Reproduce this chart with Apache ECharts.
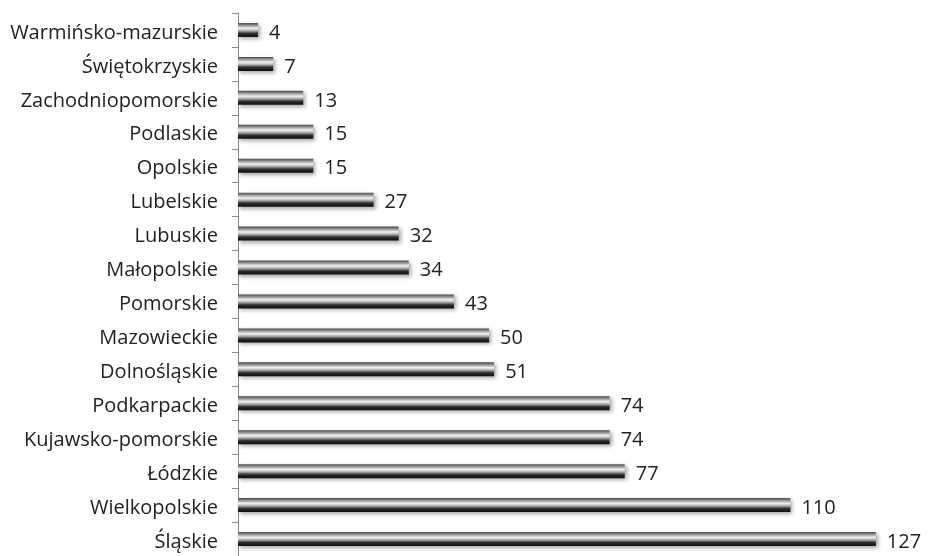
<!DOCTYPE html>
<html>
<head>
<meta charset="utf-8">
<script src="https://cdn.jsdelivr.net/npm/echarts@6/dist/echarts.min.js"></script>
<style>
  html, body { margin: 0; padding: 0; background: #fff; }
  #chart { width: 928px; height: 556px; }
</style>
</head>
<body>
<div id="chart"></div>
<script>
  // od dołu do góry
  var regions = ['Śląskie', 'Wielkopolskie', 'Łódzkie', 'Kujawsko-pomorskie', 'Podkarpackie',
    'Dolnośląskie', 'Mazowieckie', 'Pomorskie', 'Małopolskie', 'Lubuskie', 'Lubelskie',
    'Opolskie', 'Podlaskie', 'Zachodniopomorskie', 'Świętokrzyskie', 'Warmińsko-mazurskie'];
  var counts = [127, 110, 77, 74, 74, 51, 50, 43, 34, 32, 27, 15, 15, 13, 7, 4];

  var txt = { color: '#222', fontSize: 20, fontFamily: '"Open Sans"', padding: [6, 0, 0, 0] };

  var chart = echarts.init(document.getElementById('chart'));
  chart.setOption({
    animation: false,
    grid: { left: 238, right: 7, top: 13, bottom: -3 },
    xAxis: {
      type: 'value',
      min: 0,
      max: 136,
      show: false
    },
    yAxis: {
      type: 'category',
      data: regions,
      axisLine: { lineStyle: { color: '#8c8c8c', width: 1 } },
      axisTick: { show: true, length: 6, lineStyle: { color: '#8c8c8c' } },
      axisLabel: {
        margin: 20,
        formatter: function (v) { return '{t|' + v + '}'; },
        rich: { t: txt }
      }
    },
    series: [{
      type: 'bar',
      data: counts,
      barWidth: 14,
      itemStyle: {
        color: {
          type: 'linear', x: 0, y: 0, x2: 0, y2: 1,
          colorStops: [
            { offset: 0, color: '#4a4a4a' },
            { offset: 0.15, color: '#8a8a8a' },
            { offset: 0.38, color: '#f2f2f2' },
            { offset: 0.55, color: '#b0b0b0' },
            { offset: 0.75, color: '#2e2e2e' },
            { offset: 1, color: '#0d0d0d' }
          ]
        },
        shadowColor: 'rgba(0,0,0,0.35)',
        shadowBlur: 4,
        shadowOffsetX: 2,
        shadowOffsetY: 2
      },
      label: {
        show: true,
        position: 'right',
        distance: 11,
        formatter: function (p) { return '{t|' + p.value + '}'; },
        rich: { t: txt }
      }
    }]
  });
</script>
</body>
</html>
